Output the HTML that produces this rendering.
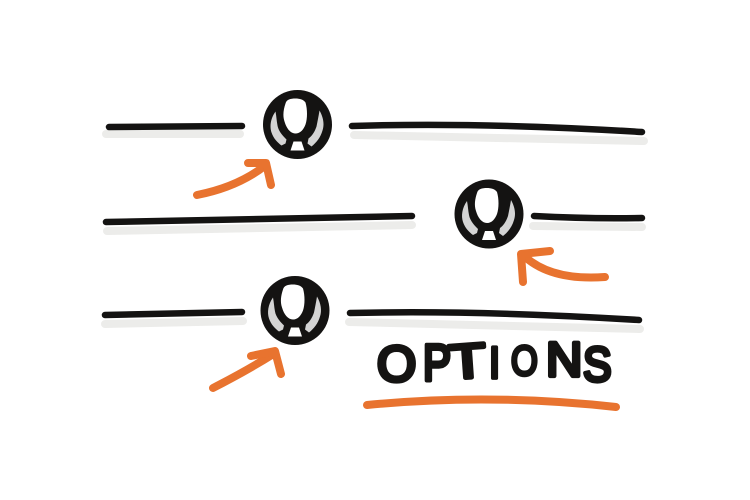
<!DOCTYPE html>
<html><head><meta charset="utf-8"><style>html,body{margin:0;padding:0;background:#fff}svg{display:block}</style></head>
<body>
<svg width="750" height="500" viewBox="0 0 750 500" xmlns="http://www.w3.org/2000/svg">
<defs>
<g id="ic">
<circle r="34.5" fill="#141312"/>
<path d="M-22,-13 C-27,-6 -28,2 -26,8 C-24,14 -20,18 -16,21 L-12,19 L-11,15 C-14,12 -19,7 -20,1 C-21,-4 -21,-8 -22,-13 Z" fill="#d4d4d4"/>
<path d="M22,-14 C26,-7 27,0 25,6 C23,13 19,18 14,22 L10,19 L11,14 C14,12 17,8 19,2 C20,-3 21,-8 22,-14 Z" fill="#d4d4d4"/>
<path d="M-2,-26 C-7,-26 -11,-25 -12,-21 C-14,-15 -15,-9 -13,-3 C-11,4 -7,9 -2,9 C3,9 6,5 8,0 C10,-6 10,-15 8,-22 C6,-25 2,-26 -2,-26 Z" fill="#fff"/>
<path d="M-4,17 L4,17 L7,26 L-7,26 Z" fill="#fff"/>
</g>
</defs>
<g fill="none" stroke="#ececea" stroke-width="8" stroke-linecap="round">
<path d="M106,134 L240,134"/><path d="M354,135 L644,141"/>
<path d="M107,231 L412,225"/><path d="M533,226 L642,227"/>
<path d="M105,324 L243,321"/><path d="M349,322 L640,329"/>
</g>
<g fill="none" stroke="#141312" stroke-width="6.5" stroke-linecap="round">
<path d="M109,127 L242,126"/><path d="M352,126 Q480,122 642,132"/>
<path d="M106,222 L412,216"/><path d="M534,216 Q590,219 642,218"/>
<path d="M105,315 L242,312"/><path d="M350,313 Q480,310 639,320"/>
</g>
<use href="#ic" x="297.5" y="124.5"/>
<use href="#ic" x="489" y="214"/>
<use href="#ic" x="295" y="310.5"/>
<g fill="none" stroke="#e8732f" stroke-width="8" stroke-linecap="round" stroke-linejoin="round">
<path d="M197,195 Q238,187 266,165"/><path d="M248,163 L266,163 L271,185"/>
<path d="M605,277 Q550,281 523,255"/><path d="M550,251 L521,254 L523,282"/>
<path d="M213,388 Q248,370 275,353"/><path d="M251,356 L275,351 L281,374"/>
<path d="M367,405 Q490,393 616,407" stroke-width="8"/>
</g>
<g font-family="Liberation Sans, sans-serif" font-size="42" fill="#141312" stroke="#141312" stroke-width="3.6" stroke-linejoin="round">
<text transform="translate(377,381) scale(1.2,1.2)">O</text>
<text transform="translate(423,380) scale(1,1.22)">P</text>
<text transform="translate(450,379) rotate(-4) scale(1.45,1.15)">T</text>
<text transform="translate(489,378) scale(0.95,1.06)">I</text>
<text transform="translate(511,375) scale(0.82,1)">O</text>
<text transform="translate(546,376) scale(1.2,1.15)">N</text>
<text transform="translate(583,381) scale(1.02,1.15)">S</text>
</g>
</svg>
</body></html>
